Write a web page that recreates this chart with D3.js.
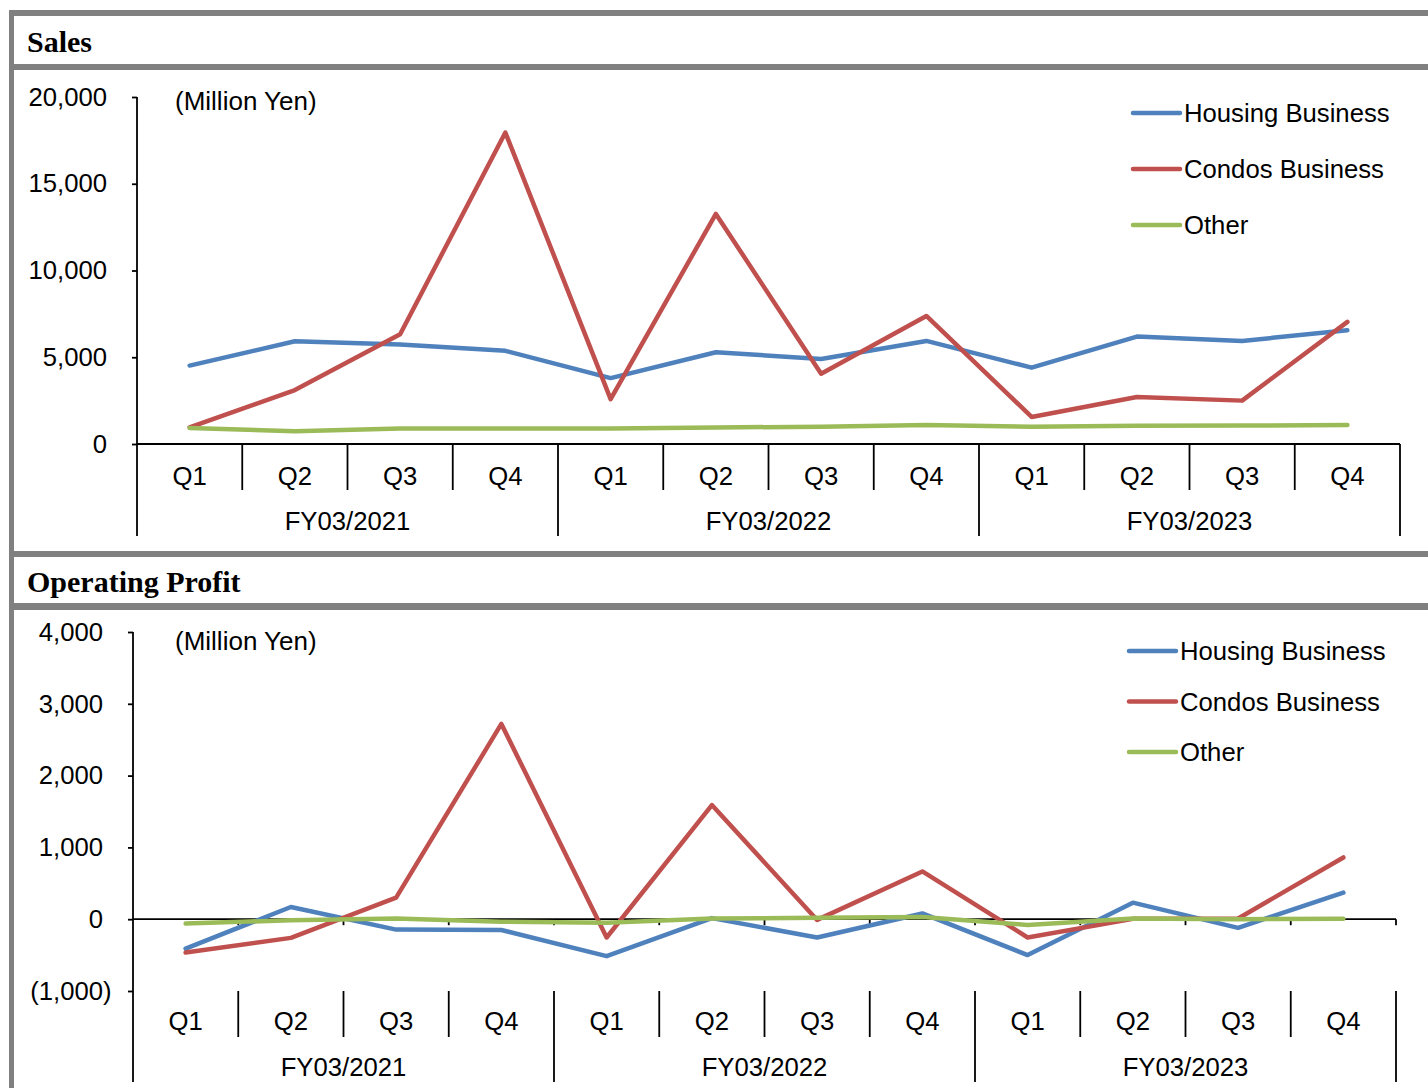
<!DOCTYPE html>
<html>
<head>
<meta charset="utf-8">
<script src="https://cdn.jsdelivr.net/npm/d3@7"></script>
<style>
  html, body { margin: 0; padding: 0; background: #fff; }
  svg { display: block; }
  text { font-family: "Liberation Sans", Arial, sans-serif; fill: #000; }
  .title { font-family: "Liberation Serif", "Times New Roman", serif; font-weight: bold; }
</style>
</head>
<body>
<svg id="chart" width="1428" height="1088"></svg>
<script>
// Quarterly segment results (million yen)
const quarters = ["Q1", "Q2", "Q3", "Q4", "Q1", "Q2", "Q3", "Q4", "Q1", "Q2", "Q3", "Q4"];
const fiscalYears = ["FY03/2021", "FY03/2022", "FY03/2023"];
const seriesNames = ["Housing Business", "Condos Business", "Other"];
const seriesColors = ["#4F81BD", "#C0504D", "#9BBB59"];

const salesHousing = [4520, 5920, 5730, 5370, 3800, 5290, 4900, 5940, 4400, 6190, 5940, 6560];
const salesCondos  = [960, 3110, 6330, 17950, 2590, 13260, 4050, 7380, 1560, 2710, 2500, 7040];
const salesOther   = [920, 730, 900, 900, 900, 950, 1000, 1100, 1000, 1050, 1060, 1100];
const salesTicks   = [0, 5000, 10000, 15000, 20000];

const profitHousing = [-410, 170, -145, -150, -515, 15, -255, 80, -500, 230, -120, 370];
const profitCondos  = [-465, -260, 300, 2720, -255, 1590, -10, 665, -255, 5, 10, 860];
const profitOther   = [-60, -15, 10, -35, -50, 10, 20, 30, -80, 10, 0, 5];
const profitTicks   = [-1000, 0, 1000, 2000, 3000, 4000];

const svg = d3.select("#chart");
const FONT = 25.7;

// frame: grey rules around and between the two panels
const frame = svg.append("g").attr("fill", "#808080");
frame.append("rect").attr("x", 9).attr("y", 10).attr("width", 1419).attr("height", 6);
frame.append("rect").attr("x", 9).attr("y", 10).attr("width", 5).attr("height", 1078);
frame.append("rect").attr("x", 9).attr("y", 64).attr("width", 1419).attr("height", 6);
frame.append("rect").attr("x", 9).attr("y", 551).attr("width", 1419).attr("height", 6);
frame.append("rect").attr("x", 9).attr("y", 603).attr("width", 1419).attr("height", 7);

const fmt = d => d < 0 ? "(" + d3.format(",")(-d) + ")" : d3.format(",")(d);

function drawPanel(cfg) {
  const g = svg.append("g");

  g.append("text").attr("class", "title")
    .attr("x", 27).attr("y", cfg.titleY)
    .attr("font-size", 30)
    .text(cfg.title);

  const keys = quarters.map((q, i) => fiscalYears[Math.floor(i / 4)] + " " + q);
  const x = d3.scalePoint().domain(keys).range([cfg.xLeft, cfg.xRight]).padding(0.5);
  const step = x.step();
  const y = d3.scaleLinear().domain(cfg.domain).range(cfg.yRange);

  // y axis ticks and labels
  const yAxis = d3.axisLeft(y).tickValues(cfg.ticks).tickSize(5).tickPadding(25).tickFormat(fmt);
  const ya = g.append("g").attr("transform", `translate(${cfg.xLeft},0)`).call(yAxis);
  ya.select(".domain").remove();
  ya.selectAll(".tick line").attr("stroke", "#000").attr("stroke-width", 1.8);
  ya.selectAll(".tick text")
    .attr("font-size", FONT)
    .attr("font-family", "Liberation Sans, Arial, sans-serif")
    .attr("fill", "#000")
    .attr("x", d => d < 0 ? -30 + 0.333 * FONT : -30);

  const yMin = cfg.yRange[0];
  const y0 = y(0);

  // vertical axis line running down through the category labels
  g.append("line")
    .attr("x1", cfg.xLeft).attr("x2", cfg.xLeft)
    .attr("y1", y(cfg.domain[1])).attr("y2", cfg.yearBottom)
    .attr("stroke", "#000").attr("stroke-width", 1.8);

  // zero line
  g.append("line")
    .attr("x1", cfg.xLeft).attr("x2", cfg.xRight)
    .attr("y1", y0).attr("y2", y0)
    .attr("stroke", "#000").attr("stroke-width", 1.8);

  // small ticks on the zero line at category boundaries
  const bounds = d3.range(13).map(i => cfg.xLeft + i * step);
  if (cfg.zeroTicks) {
    g.selectAll(".zt").data(bounds.slice(1)).join("line")
      .attr("x1", d => d).attr("x2", d => d)
      .attr("y1", y0).attr("y2", y0 + 6)
      .attr("stroke", "#000").attr("stroke-width", 1.8);
  }

  // category dividers: quarter level and year level
  g.selectAll(".qd").data(bounds.slice(1)).join("line")
    .attr("x1", d => d).attr("x2", d => d)
    .attr("y1", yMin).attr("y2", (d, i) => ((i + 1) % 4 === 0) ? cfg.yearBottom : cfg.qBottom)
    .attr("stroke", "#000").attr("stroke-width", 1.8);

  g.selectAll(".ql").data(keys).join("text")
    .attr("x", d => x(d)).attr("y", cfg.qLabelY).attr("dy", "0.35em")
    .attr("text-anchor", "middle").attr("font-size", FONT)
    .text((d, i) => quarters[i]);

  g.selectAll(".fl").data(fiscalYears).join("text")
    .attr("x", (d, i) => cfg.xLeft + (i * 4 + 2) * step).attr("y", cfg.fyLabelY).attr("dy", "0.35em")
    .attr("text-anchor", "middle").attr("font-size", FONT)
    .text(d => d);

  g.append("text").attr("x", 175).attr("y", cfg.unitY).attr("dy", "0.35em")
    .attr("font-size", 26).text("(Million Yen)");

  // series lines
  const line = d3.line().x((d, i) => x(keys[i])).y(d => y(d));
  g.selectAll(".series").data(cfg.series).join("path")
    .attr("d", d => line(d))
    .attr("fill", "none")
    .attr("stroke", (d, i) => seriesColors[i])
    .attr("stroke-width", 4.5)
    .attr("stroke-linejoin", "round")
    .attr("stroke-linecap", "round");

  // legend
  const lg = g.selectAll(".lg").data(seriesNames).join("g")
    .attr("transform", (d, i) => `translate(${cfg.legendX},${cfg.legendY + i * cfg.legendGap})`);
  lg.append("line").attr("x1", 0).attr("x2", 47).attr("y1", 0).attr("y2", 0)
    .attr("stroke", (d, i) => seriesColors[i]).attr("stroke-width", 4.5).attr("stroke-linecap", "round");
  lg.append("text").attr("x", 51).attr("dy", "0.35em").attr("font-size", FONT).text(d => d);
}

drawPanel({
  title: "Sales", titleY: 52,
  xLeft: 137, xRight: 1400,
  domain: [0, 20000], yRange: [444, 97], ticks: salesTicks,
  qBottom: 490, yearBottom: 536, qLabelY: 476, fyLabelY: 521,
  unitY: 101, legendX: 1133, legendY: 113, legendGap: 56,
  zeroTicks: false,
  series: [salesHousing, salesCondos, salesOther]
});

drawPanel({
  title: "Operating Profit", titleY: 592,
  xLeft: 133, xRight: 1396,
  domain: [-1000, 4000], yRange: [991, 632], ticks: profitTicks,
  qBottom: 1037, yearBottom: 1082, qLabelY: 1021, fyLabelY: 1067,
  unitY: 641, legendX: 1129, legendY: 651, legendGap: 50.5,
  zeroTicks: true,
  series: [profitHousing, profitCondos, profitOther]
});
</script>
</body>
</html>
